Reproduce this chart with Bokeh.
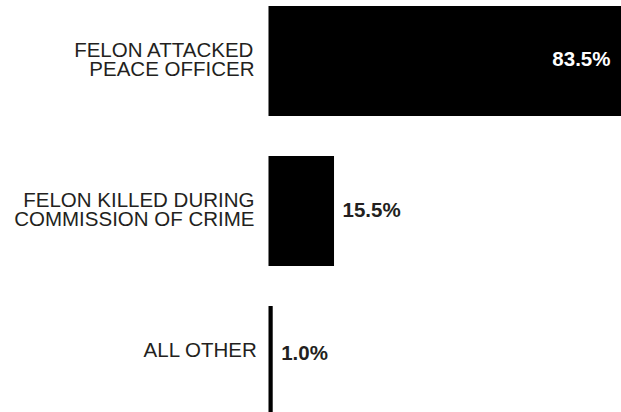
from bokeh.plotting import figure
from bokeh.models import ColumnDataSource, Range1d
from bokeh.core.properties import value
from bokeh.embed import file_html
from bokeh.resources import INLINE

categories = ["FELON ATTACKED\nPEACE OFFICER",
              "FELON KILLED DURING\nCOMMISSION OF CRIME",
              "ALL OTHER"]
values = [83.5, 15.5, 1.0]
value_labels = ["83.5%", "15.5%", "1.0%"]

# label nudges (pixels), styling only
cat_dx = [-14, -14, -11]
cat_dy = [-2, -2, -12]
val_dy = [-2, -2, -9]

idx = list(range(len(categories)))
inside = [v > 50 for v in values]

bars = ColumnDataSource(dict(y=idx, right=values))
cat_src = ColumnDataSource(dict(y=idx, x=[0] * len(idx), text=categories,
                                dx=cat_dx, dy=cat_dy))


def subset(flag):
    sel = [i for i in idx if inside[i] == flag]
    return ColumnDataSource(dict(
        y=sel, x=[values[i] for i in sel],
        text=[value_labels[i] for i in sel],
        dy=[val_dy[i] for i in sel]))


in_src = subset(True)
out_src = subset(False)

p = figure(width=621, height=412, output_backend="svg", toolbar_location=None,
           x_range=Range1d(-63.39, 83.5), y_range=Range1d(2.3433, -0.4033),
           min_border=0)
p.axis.visible = False
p.grid.visible = False
p.outline_line_color = None
p.background_fill_color = "white"
p.border_fill_color = "white"

p.hbar(y="y", left=0, right="right", height=0.733, source=bars,
       fill_color="black", line_color=None)

font = value("Liberation Sans")
p.text(x="x", y="y", text="text", source=cat_src, x_offset="dx", y_offset="dy",
       text_align="right", text_baseline="middle", text_font=font,
       text_font_size="20.5px", text_color="#231f20", text_line_height=0.85)
p.text(x="x", y="y", text="text", source=in_src, x_offset=-11, y_offset="dy",
       text_align="right", text_baseline="middle", text_font=font,
       text_font_size="20.5px", text_font_style="bold", text_color="white")
p.text(x="x", y="y", text="text", source=out_src, x_offset=8.5, y_offset="dy",
       text_align="left", text_baseline="middle", text_font=font,
       text_font_size="20.5px", text_font_style="bold", text_color="#231f20")

open("out.html", "w").write(file_html(p, INLINE))
